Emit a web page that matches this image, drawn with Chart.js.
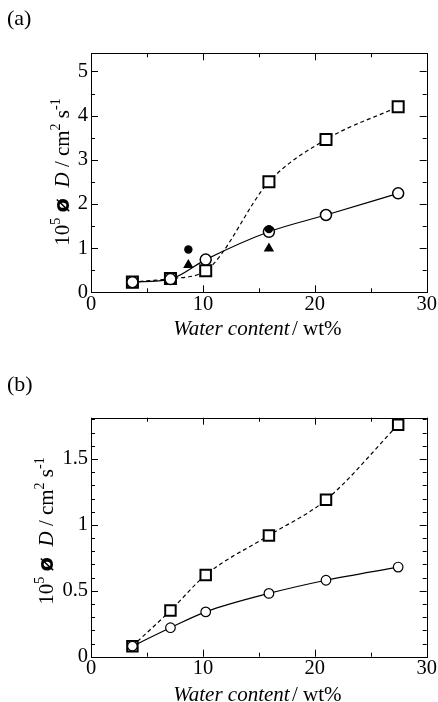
<!DOCTYPE html>
<html>
<head>
<meta charset="utf-8">
<script src="https://cdn.jsdelivr.net/npm/chart.js@4.4.0/dist/chart.umd.min.js"></script>
<style>
    body { margin: 0; background: #fff; }
    .panel { position: absolute; left: 0; width: 438px; height: 351px; }
    #panelA { top: 0; }
    #panelB { top: 351px; }
</style>
</head>
<body>
<div class="panel" id="panelA"><canvas id="chartA" width="438" height="351"></canvas></div>
<div class="panel" id="panelB"><canvas id="chartB" width="438" height="351"></canvas></div>
<script>
// water content (wt%) of the six samples
const waterContent = [3.7, 7.1, 10.25, 15.9, 21.0, 27.45];

// panel (a)
const squaresA = [0.23, 0.31, 0.49, 2.50, 3.46, 4.20];
const circlesA = [0.23, 0.30, 0.74, 1.37, 1.75, 2.24];
const extraX = [8.7, 15.9];
const filledCirclesA = [0.97, 1.43];
const trianglesA = [0.62, 0.99];

// panel (b)
const squaresB = [0.08, 0.35, 0.62, 0.92, 1.19, 1.76];
const circlesB = [0.08, 0.22, 0.34, 0.48, 0.58, 0.68];

// ticks
const xMajor = [0, 10, 20, 30];
const xMinor = [5, 15, 25];
const yMajorA = [0, 1, 2, 3, 4, 5];
const yMinorA = [0.5, 1.5, 2.5, 3.5, 4.5];
const yMajorB = [0, 0.5, 1, 1.5];
const yMinorB = [0.1, 0.2, 0.3, 0.4, 0.6, 0.7, 0.8, 0.9, 1.1, 1.2, 1.3, 1.4, 1.6, 1.7, 1.8];

const SERIF = '"Liberation Serif", "DejaVu Serif", serif';
const TICK_SIZE = 20.5;

function pts(xs, ys) {
    return xs.map((x, i) => ({ x: x, y: ys[i] }));
}

// frame, inward ticks and the two axis titles
const framePlugin = {
    id: 'frame',
    afterDraw(chart, args, opts) {
        const ctx = chart.ctx;
        const a = chart.chartArea;
        const xs = chart.scales.x;
        const ys = chart.scales.y;
        ctx.save();
        ctx.strokeStyle = '#000';
        ctx.lineWidth = 1;
        ctx.strokeRect(Math.round(a.left) + 0.5, Math.round(a.top) + 0.5,
            Math.round(a.right - a.left), Math.round(a.bottom - a.top));

        const tick = (vals, len, isX) => {
            vals.forEach(v => {
                ctx.beginPath();
                if (isX) {
                    const p = Math.round(xs.getPixelForValue(v)) + 0.5;
                    ctx.moveTo(p, a.bottom); ctx.lineTo(p, a.bottom - len);
                    ctx.moveTo(p, a.top); ctx.lineTo(p, a.top + len);
                } else {
                    const p = Math.round(ys.getPixelForValue(v)) + 0.5;
                    ctx.moveTo(a.left, p); ctx.lineTo(a.left + len, p);
                    ctx.moveTo(a.right, p); ctx.lineTo(a.right - len, p);
                }
                ctx.stroke();
            });
        };
        tick(xMajor, 7, true);
        tick(xMinor, 4, true);
        tick(opts.yMajor, 7, false);
        tick(opts.yMinor, 4, false);

        // x title
        ctx.fillStyle = '#000';
        ctx.textBaseline = 'alphabetic';
        const fs = 21;
        const partA = 'Water content';
        const partB = ' / wt%';
        ctx.font = 'italic ' + fs + 'px ' + SERIF;
        const wA = ctx.measureText(partA).width;
        ctx.font = fs + 'px ' + SERIF;
        const wB = ctx.measureText(partB).width;
        let x0 = (a.left + a.right) / 2 - (wA + wB) / 2;
        ctx.font = 'italic ' + fs + 'px ' + SERIF;
        ctx.fillText(partA, x0, opts.xTitleY);
        ctx.font = fs + 'px ' + SERIF;
        ctx.fillText(partB, x0 + wA - 3, opts.xTitleY);

        // y title, rotated
        const sup = '14px ' + SERIF;
        const runs = [
            { t: '10', f: fs + 'px ' + SERIF, dy: 0 },
            { t: '5', f: sup, dy: -9 },
            { t: ' ', f: fs + 'px ' + SERIF, dy: 0 },
            { t: 'ø', f: 'bold ' + fs + 'px "DejaVu Sans", sans-serif', dy: 0 },
            { t: '  ', f: fs + 'px ' + SERIF, dy: 0 },
            { t: 'D', f: 'italic ' + fs + 'px ' + SERIF, dy: 0 },
            { t: ' / cm', f: fs + 'px ' + SERIF, dy: 0 },
            { t: '2', f: sup, dy: -9 },
            { t: ' s', f: fs + 'px ' + SERIF, dy: 0 },
            { t: '-1', f: sup, dy: -9 }
        ];
        let total = 0;
        runs.forEach(r => { ctx.font = r.f; r.w = ctx.measureText(r.t).width; total += r.w; });
        ctx.translate(opts.yTitleX, opts.yTitleY);
        ctx.rotate(-Math.PI / 2);
        let cx = -total / 2;
        runs.forEach(r => {
            ctx.font = r.f;
            ctx.fillText(r.t, cx, 7 + r.dy);
            cx += r.w;
        });
        ctx.restore();

        // panel letter
        ctx.save();
        ctx.font = '22px ' + SERIF;
        ctx.fillStyle = '#000';
        ctx.textBaseline = 'alphabetic';
        ctx.fillText(opts.letter, 7, opts.letterY);
        ctx.restore();
    }
};

function makeChart(id, datasets, cfg) {
    return new Chart(document.getElementById(id), {
        type: 'line',
        data: { datasets: datasets },
        options: {
            responsive: false,
            animation: false,
            events: [],
            layout: { padding: { left: 0, right: 438 - 426.7, top: cfg.top, bottom: 0 } },
            plugins: {
                legend: { display: false },
                tooltip: { enabled: false },
                frame: cfg.frame
            },
            scales: {
                x: {
                    type: 'linear',
                    min: 0,
                    max: 30,
                    afterBuildTicks: s => { s.ticks = xMajor.map(v => ({ value: v })); },
                    afterFit: s => { s.height = cfg.xHeight; },
                    grid: { display: false, drawTicks: false },
                    border: { display: false },
                    ticks: { color: '#000', font: { family: SERIF, size: TICK_SIZE }, padding: 0, maxRotation: 0 }
                },
                y: {
                    type: 'linear',
                    min: 0,
                    max: cfg.yMax,
                    afterBuildTicks: s => { s.ticks = cfg.frame.yMajor.map(v => ({ value: v })); },
                    afterFit: s => { s.width = 91; },
                    grid: { display: false, drawTicks: false },
                    border: { display: false },
                    ticks: { color: '#000', font: { family: SERIF, size: TICK_SIZE }, padding: 3, callback: v => String(v) }
                }
            }
        },
        plugins: [framePlugin]
    });
}

function curve(data, dashed, style, radius, borderW) {
    return {
        data: data,
        borderColor: '#000',
        borderWidth: 1.2,
        borderDash: dashed ? [4, 3] : [],
        cubicInterpolationMode: 'monotone',
        pointStyle: style,
        pointRadius: radius,
        pointBorderWidth: borderW,
        pointBorderColor: '#000',
        pointBackgroundColor: '#fff',
        clip: false
    };
}

function marks(data, style, radius) {
    return {
        data: data,
        showLine: false,
        pointStyle: style,
        pointRadius: radius,
        pointBorderWidth: 0,
        pointBorderColor: '#000',
        pointBackgroundColor: '#000',
        clip: false
    };
}

makeChart('chartA', [
    marks(pts(extraX, filledCirclesA), 'circle', 4.2),
    marks(pts(extraX, trianglesA), 'triangle', 6),
    curve(pts(waterContent, circlesA), false, 'circle', 5.5, 1.5),
    curve(pts(waterContent, squaresA), true, 'rect', 7.8, 2)
], {
    top: 53.3,
    xHeight: 351 - 292.3,
    yMax: 5.41,
    frame: { yMajor: yMajorA, yMinor: yMinorA, xTitleY: 335, yTitleX: 62, yTitleY: 172, letter: '(a)', letterY: 25 }
});

makeChart('chartB', [
    curve(pts(waterContent, circlesB), false, 'circle', 4.8, 1.2),
    curve(pts(waterContent, squaresB), true, 'rect', 7.4, 2)
], {
    top: 417.7 - 351,
    xHeight: 351 - 305.7,
    yMax: 1.813,
    frame: { yMajor: yMajorB, yMinor: yMinorB, xTitleY: 350, yTitleX: 46, yTitleY: 180, letter: '(b)', letterY: 40 }
});
</script>
</body>
</html>
